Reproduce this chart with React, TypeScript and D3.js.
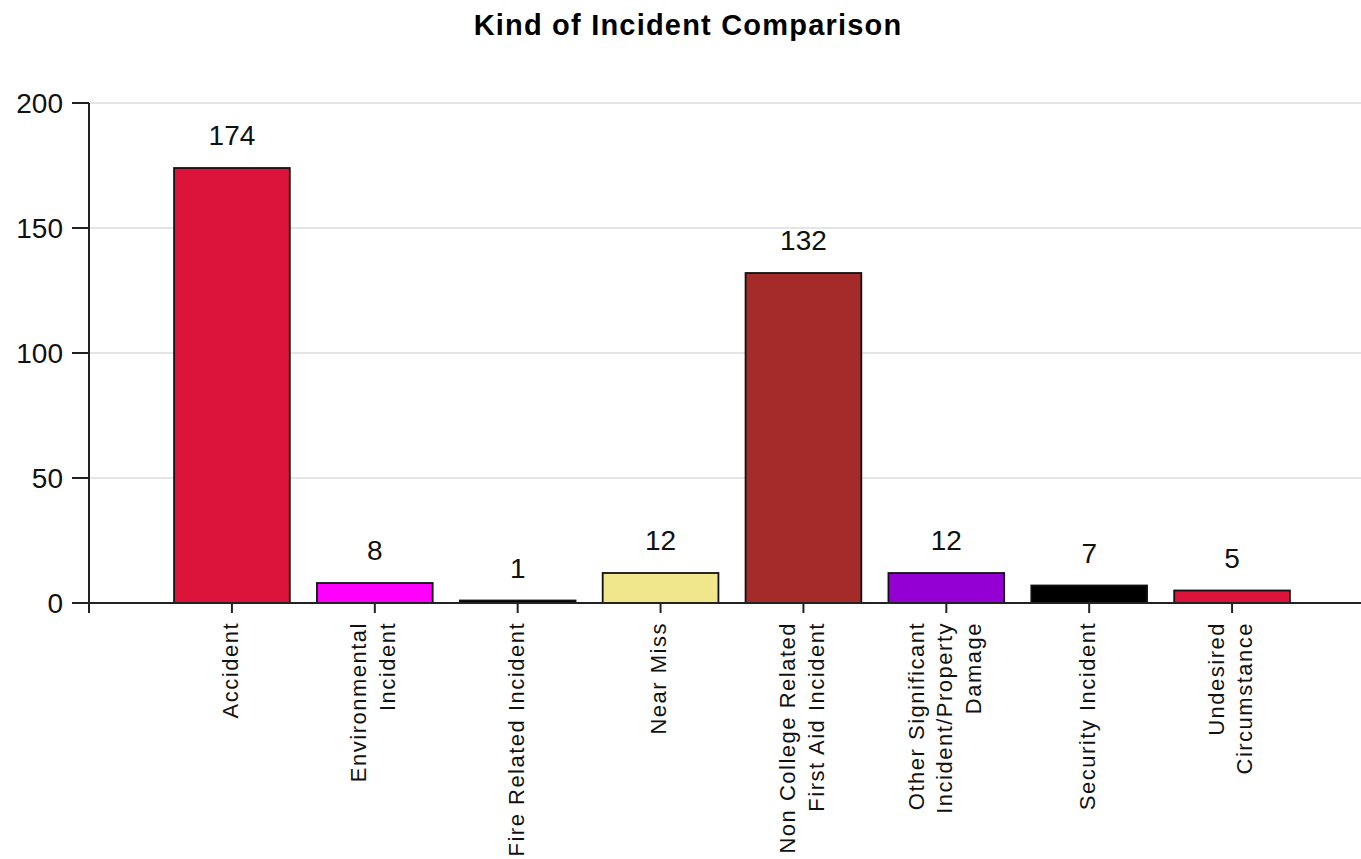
import React from "react";
import * as d3 from "d3";

const categories: string[][] = [
  ["Accident"],
  ["Environmental", "Incident"],
  ["Fire Related Incident"],
  ["Near Miss"],
  ["Non College Related", "First Aid Incident"],
  ["Other Significant", "Incident/Property", "Damage"],
  ["Security Incident"],
  ["Undesired", "Circumstance"],
];
const values: number[] = [174, 8, 1, 12, 132, 12, 7, 5];
const colors: string[] = [
  "#DC143C",
  "#FF00FF",
  "#000000",
  "#F0E68C",
  "#A52A2A",
  "#9400D3",
  "#000000",
  "#DC143C",
];
const yTicks: number[] = [0, 50, 100, 150, 200];
const title = "Kind of Incident Comparison";

const W = 1361;
const H = 859;
const plotLeft = 89;
const plotRight = 1361;
const plotTop = 103;
const plotBottom = 603;
const font = "'Liberation Sans', Arial, sans-serif";

export default function App() {
  const keys = categories.map((c) => c.join(" "));
  const x = d3
    .scaleBand<string>()
    .domain(keys)
    .range([160.5, 1303.5])
    .paddingInner(0.19)
    .paddingOuter(0.095);
  const y = d3.scaleLinear().domain([0, 200]).range([plotBottom, plotTop]);

  return (
    <svg
      width={W}
      height={H}
      style={{ position: "absolute", left: 0, top: 0, background: "#fff" }}
      fontFamily={font}
    >
      <text
        x={688}
        y={35}
        textAnchor="middle"
        fontSize={29}
        fontWeight="bold"
        letterSpacing={1.2}
        fill="#000"
      >
        {title}
      </text>

      {/* grid */}
      {yTicks
        .filter((t) => t > 0)
        .map((t) => (
          <line
            key={"g" + t}
            x1={plotLeft}
            x2={plotRight}
            y1={y(t)}
            y2={y(t)}
            stroke="#dcdcdc"
            strokeWidth={1.5}
          />
        ))}

      {/* bars */}
      {values.map((v, i) => {
        const k = keys[i];
        const bx = x(k)!;
        const top = y(v);
        return (
          <g key={"b" + i}>
            <rect
              x={bx}
              y={top}
              width={x.bandwidth()}
              height={Math.max(plotBottom - top, 1)}
              fill={colors[i]}
              stroke="#111"
              strokeWidth={1.8}
            />
            <text
              x={bx + x.bandwidth() / 2}
              y={top - 23}
              textAnchor="middle"
              fontSize={28}
              fill="#111"
            >
              {v}
            </text>
          </g>
        );
      })}

      {/* y axis */}
      <line x1={plotLeft} x2={plotLeft} y1={plotTop} y2={plotBottom + 10} stroke="#222" strokeWidth={2} />
      {yTicks.map((t) => (
        <g key={"yt" + t}>
          <line x1={plotLeft - 17} x2={plotLeft} y1={y(t)} y2={y(t)} stroke="#222" strokeWidth={2} />
          <text
            x={63}
            y={y(t)}
            dy="0.36em"
            textAnchor="end"
            fontSize={28}
            fill="#111"
          >
            {t}
          </text>
        </g>
      ))}

      {/* x axis */}
      <line x1={plotLeft} x2={plotRight} y1={plotBottom} y2={plotBottom} stroke="#222" strokeWidth={2} />
      {categories.map((lines, i) => {
        const cx = x(keys[i])! + x.bandwidth() / 2;
        const n = lines.length;
        return (
          <g key={"xt" + i}>
            <line x1={cx} x2={cx} y1={plotBottom} y2={plotBottom + 10} stroke="#222" strokeWidth={2} />
            <g transform={`translate(${cx - 2},622) rotate(-90)`}>
              {lines.map((ln, j) => (
                <text
                  key={j}
                  x={0}
                  y={(j - (n - 1) / 2) * 28.5}
                  dy="0.36em"
                  textAnchor="end"
                  fontSize={22}
                  letterSpacing={1.5}
                  fill="#111"
                >
                  {ln}
                </text>
              ))}
            </g>
          </g>
        );
      })}
    </svg>
  );
}
